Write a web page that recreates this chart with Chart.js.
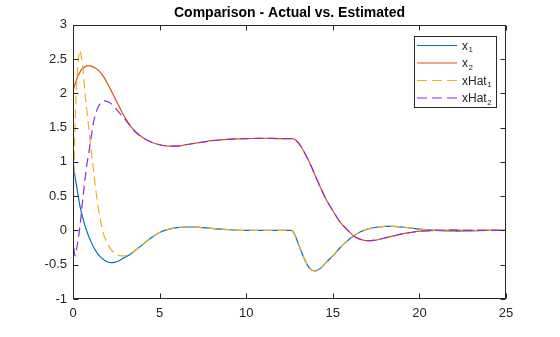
<!DOCTYPE html>
<html>
<head>
<meta charset="utf-8">
<script src="https://cdn.jsdelivr.net/npm/chart.js@4.4.1/dist/chart.umd.min.js"></script>
<style>
  html, body { margin: 0; padding: 0; background: #ffffff; }
  #wrap { width: 560px; height: 337px; }
</style>
</head>
<body>
<div id="wrap"><canvas id="c" width="560" height="337"></canvas></div>
<script>
// ---- data ----
const chartTitle = "Comparison - Actual vs. Estimated";
const xTicks = [0, 5, 10, 15, 20, 25];
const yTicks = [-1, -0.5, 0, 0.5, 1, 1.5, 2, 2.5, 3];

const tGrid = [0, 0.05, 0.1, 0.15, 0.2, 0.3, 0.4, 0.5, 0.6, 0.7, 0.8, 0.9, 1.0,
  1.2, 1.4, 1.6, 1.8, 2.0, 2.2, 2.4, 2.6, 2.8, 3.0,
  3.3, 3.6, 4.0, 4.5, 5, 5.5, 6, 6.5, 7, 7.5, 8, 9, 10, 11, 12, 12.6,
  12.8, 13.0, 13.2, 13.4, 13.6, 13.8, 14.0, 14.3, 14.6, 15,
  15.4, 15.8, 16.2, 16.6, 17, 17.5, 18, 18.5, 19, 19.5, 20, 21, 22, 23, 24, 25];

const x1 = [0.98, 0.90, 0.82, 0.74, 0.66, 0.50, 0.36, 0.25, 0.15, 0.06, -0.01, -0.08, -0.14,
  -0.25, -0.33, -0.39, -0.43, -0.46, -0.47, -0.465, -0.45, -0.42, -0.39,
  -0.35, -0.29, -0.21, -0.11, -0.03, 0.015, 0.04, 0.05, 0.05, 0.04, 0.03, 0.01, 0, 0, 0, 0,
  -0.06, -0.19, -0.32, -0.44, -0.53, -0.58, -0.59, -0.55, -0.47, -0.37,
  -0.26, -0.16, -0.08, -0.02, 0.02, 0.045, 0.06, 0.06, 0.05, 0.035, 0.02, 0, -0.01, -0.005, 0, 0];

const x2 = [2.03, 2.08, 2.12, 2.16, 2.20, 2.26, 2.31, 2.35, 2.37, 2.39, 2.40, 2.40, 2.40,
  2.38, 2.35, 2.30, 2.23, 2.14, 2.04, 1.94, 1.84, 1.74, 1.65,
  1.53, 1.44, 1.36, 1.29, 1.25, 1.23, 1.23, 1.25, 1.27, 1.29, 1.31, 1.33, 1.34, 1.345, 1.34, 1.34,
  1.33, 1.28, 1.21, 1.12, 1.02, 0.91, 0.79, 0.62, 0.46, 0.29,
  0.13, 0.02, -0.08, -0.13, -0.15, -0.14, -0.11, -0.08, -0.05, -0.03, -0.01, 0, 0.005, 0, 0, 0];

const xHat1 = [0, 0.75, 1.35, 1.8, 2.1, 2.48, 2.63, 2.50, 2.29, 1.98, 1.75, 1.52, 1.28,
  0.84, 0.43, 0.13, -0.08, -0.19, -0.28, -0.33, -0.36, -0.37, -0.37,
  -0.34, -0.29, -0.21, -0.11, -0.03, 0.015, 0.04, 0.05, 0.05, 0.04, 0.03, 0.01, 0, 0, 0, 0,
  -0.06, -0.19, -0.32, -0.44, -0.53, -0.58, -0.59, -0.55, -0.47, -0.37,
  -0.26, -0.16, -0.08, -0.02, 0.02, 0.045, 0.06, 0.06, 0.05, 0.035, 0.02, 0, -0.01, -0.005, 0, 0];

const xHat2 = [-0.05, -0.25, -0.36, -0.37, -0.28, -0.13, 0.06, 0.30, 0.54, 0.76, 0.96, 1.11, 1.28,
  1.60, 1.77, 1.86, 1.89, 1.88, 1.85, 1.80, 1.74, 1.68, 1.62,
  1.53, 1.44, 1.36, 1.29, 1.25, 1.23, 1.23, 1.25, 1.27, 1.29, 1.31, 1.33, 1.34, 1.345, 1.34, 1.34,
  1.33, 1.28, 1.21, 1.12, 1.02, 0.91, 0.79, 0.62, 0.46, 0.29,
  0.13, 0.02, -0.08, -0.13, -0.15, -0.14, -0.11, -0.08, -0.05, -0.03, -0.01, 0, 0.005, 0, 0, 0];

const seriesNames = ["x", "x", "xHat", "xHat"];
const seriesSubs = ["1", "2", "1", "2"];

// ---- styles ----
const FONT = "'Liberation Sans', Arial, Helvetica, sans-serif";
const AXIS_COLOR = "#262626";
const colors = ["#0072BD", "#D95319", "#EDB120", "#8A2FD6"];
const DASH = [9, 5];

function pts(vals) { return tGrid.map((t, i) => ({ x: t, y: vals[i] })); }

const seriesVals = [x1, x2, xHat1, xHat2];
const datasets = seriesVals.map((vals, i) => ({
  label: seriesNames[i] + seriesSubs[i],
  data: pts(vals),
  borderColor: colors[i],
  backgroundColor: colors[i],
  borderWidth: 1.2,
  borderDash: i >= 2 ? DASH : [],
  pointRadius: 0,
  fill: false,
  cubicInterpolationMode: 'monotone',
  order: 4 - i
}));

const boxPlugin = {
  id: 'boxTicks',
  afterDatasetsDraw(chart) {
    const ctx = chart.ctx, ca = chart.chartArea;
    const xs = chart.scales.x, ys = chart.scales.y;
    ctx.save();
    ctx.strokeStyle = AXIS_COLOR;
    ctx.lineWidth = 1;
    ctx.setLineDash([]);
    const L = Math.round(ca.left) + 0.5, R = Math.round(ca.right) - 0.5;
    const T = Math.round(ca.top) + 0.5, B = Math.round(ca.bottom) - 0.5;
    ctx.strokeRect(L, T, R - L, B - T);
    const tl = 5;
    ctx.beginPath();
    xTicks.forEach(v => {
      const px = Math.round(xs.getPixelForValue(v)) + 0.5;
      ctx.moveTo(px, B); ctx.lineTo(px, B - tl);
      ctx.moveTo(px, T); ctx.lineTo(px, T + tl);
    });
    yTicks.forEach(v => {
      const py = Math.round(ys.getPixelForValue(v)) + 0.5;
      ctx.moveTo(L, py); ctx.lineTo(L + tl, py);
      ctx.moveTo(R, py); ctx.lineTo(R - tl, py);
    });
    ctx.stroke();
    ctx.restore();
  }
};

const legendPlugin = {
  id: 'insideLegend',
  afterDraw(chart) {
    const ctx = chart.ctx;
    const bx = 414.5, by = 36.5, bw = 82, bh = 71;
    ctx.save();
    ctx.fillStyle = '#ffffff';
    ctx.fillRect(bx, by, bw, bh);
    ctx.strokeStyle = AXIS_COLOR;
    ctx.lineWidth = 1;
    ctx.setLineDash([]);
    ctx.strokeRect(bx, by, bw, bh);
    const rowY = [45.5, 63, 80.5, 98];
    for (let i = 0; i < 4; i++) {
      const y = rowY[i];
      ctx.strokeStyle = colors[i];
      ctx.lineWidth = 1.2;
      ctx.setLineDash(i >= 2 ? [10, 5] : []);
      ctx.beginPath();
      ctx.moveTo(417, y); ctx.lineTo(457, y);
      ctx.stroke();
      ctx.setLineDash([]);
      ctx.fillStyle = AXIS_COLOR;
      ctx.textBaseline = 'alphabetic';
      ctx.textAlign = 'left';
      ctx.font = "12px " + FONT;
      const base = seriesNames[i];
      ctx.fillText(base, 462, y + 4);
      const w = ctx.measureText(base).width;
      ctx.font = "8px " + FONT;
      ctx.fillText(seriesSubs[i], 462 + w + 0.5, y + 6.5);
    }
    ctx.restore();
  }
};

new Chart(document.getElementById('c'), {
  type: 'line',
  data: { datasets },
  options: {
    responsive: false,
    animation: false,
    events: [],
    layout: { padding: { top: 0, right: 54, left: 0, bottom: 0 } },
    plugins: {
      legend: { display: false },
      tooltip: { enabled: false },
      title: {
        display: true,
        text: chartTitle,
        fullSize: false,
        color: '#000000',
        font: { family: FONT, size: 14, weight: 'bold', lineHeight: 1.2 },
        padding: { top: 5, bottom: 3 }
      }
    },
    scales: {
      x: {
        type: 'linear',
        min: 0, max: 25,
        afterBuildTicks(axis) { axis.ticks = xTicks.map(v => ({ value: v })); },
        afterFit(axis) { axis.height = 38; },
        grid: { display: false, drawTicks: false },
        border: { display: false },
        ticks: {
          color: AXIS_COLOR,
          font: { family: FONT, size: 13 },
          padding: 7,
          maxRotation: 0,
          callback: v => String(v)
        }
      },
      y: {
        type: 'linear',
        min: -1, max: 3,
        afterBuildTicks(axis) { axis.ticks = yTicks.map(v => ({ value: v })); },
        afterFit(axis) { axis.width = 73; },
        grid: { display: false, drawTicks: false },
        border: { display: false },
        ticks: {
          color: AXIS_COLOR,
          font: { family: FONT, size: 13 },
          padding: 6,
          callback: v => String(v)
        }
      }
    }
  },
  plugins: [boxPlugin, legendPlugin]
});
</script>
</body>
</html>
